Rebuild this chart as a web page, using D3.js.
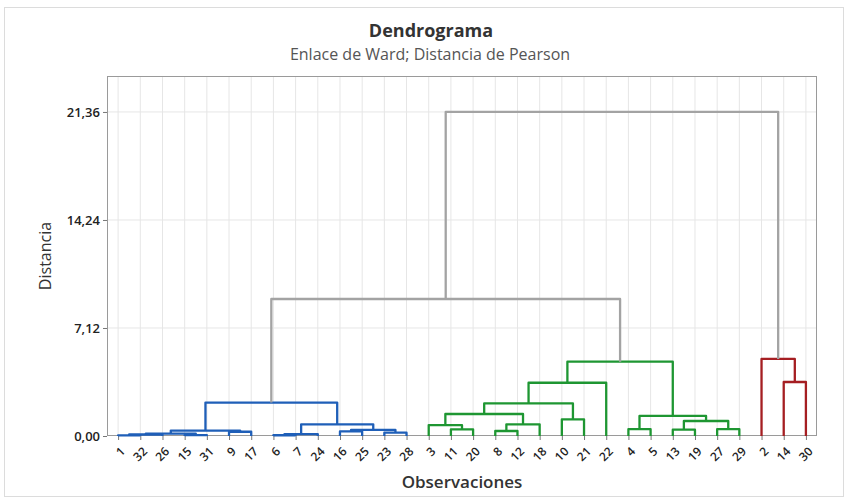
<!DOCTYPE html>
<html>
<head>
<meta charset="utf-8">
<script src="https://cdn.jsdelivr.net/npm/d3@7"></script>
<style>
  body { margin: 0; background: #fff; }
  text { font-family: "Open Sans", "Noto Sans", sans-serif; }
</style>
</head>
<body>
<svg id="canvas" width="848" height="501"></svg>
<script>
// leaves in the order they appear along the x axis
const leafOrder = [1, 32, 26, 15, 31, 9, 17, 6, 7, 24, 16, 25, 23, 28,
                   3, 11, 20, 8, 12, 18, 10, 21, 22, 4, 5, 13, 19, 27, 29,
                   2, 14, 30];
// cluster each leaf belongs to (0 blue, 1 green, 2 red)
const leafGroup = [0,0,0,0,0,0,0,0,0,0,0,0,0,0,
                   1,1,1,1,1,1,1,1,1,1,1,1,1,1,1,
                   2,2,2];
const groupColors = ["#1f5fb8", "#1e9632", "#a51e22"];
const linkGray = "#a3a3a3";

// merges: [left, right, height]; numbers are leaves, "mK" is merge K
const merges = [
  [1, 32, 0.04],        // m0
  ["m0", 26, 0.10],     // m1
  [15, 31, 0.06],       // m2
  ["m1", "m2", 0.16],   // m3
  [9, 17, 0.28],        // m4
  ["m3", "m4", 0.36],   // m5
  [6, 7, 0.05],         // m6
  ["m6", 24, 0.13],     // m7
  [16, 25, 0.30],       // m8
  [23, 28, 0.22],       // m9
  ["m8", "m9", 0.40],   // m10
  ["m7", "m10", 0.77],  // m11
  ["m5", "m11", 2.20],  // m12
  [11, 20, 0.44],       // m13
  [3, "m13", 0.72],     // m14
  [8, 12, 0.33],        // m15
  ["m15", 18, 0.77],    // m16
  ["m14", "m16", 1.45], // m17
  [10, 21, 1.10],       // m18
  ["m17", "m18", 2.15], // m19
  ["m19", 22, 3.51],    // m20
  [4, 5, 0.45],         // m21
  [13, 19, 0.42],       // m22
  [27, 29, 0.45],       // m23
  ["m22", "m23", 0.99], // m24
  ["m21", "m24", 1.32], // m25
  ["m20", "m25", 4.90], // m26
  [14, 30, 3.56],       // m27
  [2, "m27", 5.08],     // m28
  ["m12", "m26", 9.03], // m29
  ["m29", "m28", 21.36] // m30
];
const yTicks = [0, 7.12, 14.24, 21.36];
const yMax = 23.73;

const svg = d3.select("#canvas");
const pLeft = 107, pRight = 817, pTop = 76, pBottom = 436;

// outer light border
svg.append("rect").attr("x", 4.5).attr("y", 7.5).attr("width", 839).attr("height", 489)
  .attr("fill", "none").attr("stroke", "#dcdcdc");

const x = d3.scalePoint().domain(leafOrder).range([pLeft, pRight]).padding(0.5);
const y = d3.scaleLinear().domain([0, yMax]).range([pBottom, pTop]);

// grid
const grid = svg.append("g");
grid.selectAll("line.v").data(leafOrder).enter().append("line")
  .attr("x1", d => x(d)).attr("x2", d => x(d)).attr("y1", pTop).attr("y2", pBottom)
  .attr("stroke", "#e6e6e6").attr("stroke-width", 1);
grid.selectAll("line.h").data(yTicks.slice(1)).enter().append("line")
  .attr("x1", pLeft).attr("x2", pRight).attr("y1", d => y(d)).attr("y2", d => y(d))
  .attr("stroke", "#e6e6e6").attr("stroke-width", 1);

// frame
svg.append("rect").attr("x", pLeft + 0.5).attr("y", pTop + 0.5)
  .attr("width", pRight - pLeft - 1).attr("height", pBottom - pTop - 1)
  .attr("fill", "none").attr("stroke", "#9a9a9a");

// axes
const loc = d3.formatLocale({decimal: ",", thousands: ".", grouping: [3], currency: ["", ""]});
const yAxis = d3.axisLeft(y).tickValues(yTicks).tickFormat(loc.format(".2f")).tickSize(4).tickPadding(3);
const gy = svg.append("g").attr("transform", `translate(${pLeft},0)`).call(yAxis);
gy.select(".domain").remove();
gy.selectAll("line").attr("stroke", "#777");
gy.selectAll("text").attr("font-size", 13).attr("font-weight", 600).attr("fill", "#222");

const xAxis = d3.axisBottom(x).tickSize(4).tickPadding(2);
const gx = svg.append("g").attr("transform", `translate(0,${pBottom})`).call(xAxis);
gx.select(".domain").remove();
gx.selectAll("line").attr("stroke", "#777");
gx.selectAll("text")
  .attr("font-size", 12).attr("font-weight", 600).attr("fill", "#222")
  .attr("text-anchor", "end")
  .attr("dy", "0.35em").attr("dx", 0)
  .attr("transform", "translate(0,9) rotate(-45)");

// build dendrogram node positions
const node = {};
leafOrder.forEach((l, i) => { node[l] = {x: x(l), h: 0, group: leafGroup[i]}; });
const links = [];
merges.forEach((m, k) => {
  const a = node[m[0]], b = node[m[1]];
  const group = a.group === b.group ? a.group : -1;
  node["m" + k] = {x: (a.x + b.x) / 2, h: m[2], group: group};
  links.push({a: a, b: b, h: m[2], group: group});
});

svg.append("g").selectAll("path").data(links).enter().append("path")
  .attr("d", d => `M${d.a.x},${y(d.a.h)}V${y(d.h)}H${d.b.x}V${y(d.b.h)}`)
  .attr("fill", "none")
  .attr("stroke", d => d.group < 0 ? linkGray : groupColors[d.group])
  .attr("stroke-width", 2.3)
  .attr("stroke-linejoin", "round");

// titles
svg.append("text").attr("x", 431).attr("y", 37).attr("text-anchor", "middle")
  .attr("font-size", 18).attr("font-weight", 700).attr("fill", "#333").text("Dendrograma");
svg.append("text").attr("x", 430).attr("y", 60).attr("text-anchor", "middle")
  .attr("font-size", 16).attr("fill", "#555").text("Enlace de Ward; Distancia de Pearson");
svg.append("text").attr("x", (pLeft + pRight) / 2).attr("y", 488).attr("text-anchor", "middle")
  .attr("font-size", 17).attr("font-weight", 600).attr("fill", "#333").text("Observaciones");
svg.append("text").attr("transform", `translate(51,${(pTop + pBottom) / 2}) rotate(-90)`)
  .attr("text-anchor", "middle").attr("font-size", 16).attr("fill", "#333").text("Distancia");
</script>
</body>
</html>
